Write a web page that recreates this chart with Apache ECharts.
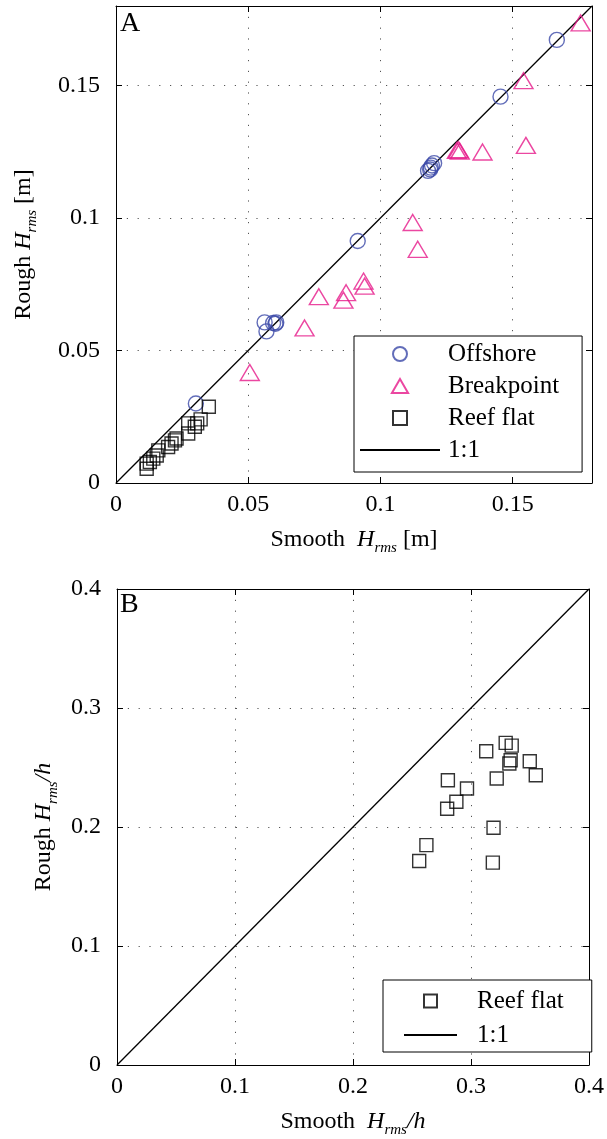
<!DOCTYPE html>
<html>
<head>
<meta charset="UTF-8">
<title>Rough vs Smooth Hrms</title>
<style>
  * { margin: 0; padding: 0; box-sizing: border-box; }
  body { background: #fff; }
  #chart { width: 607px; height: 1139px; }
</style>
<script src="https://cdn.jsdelivr.net/npm/echarts@6/dist/echarts.min.js"></script>
</head>
<body>
<div id="chart"></div>
<script>
// panel A: Hrms [m]
const offshoreX = [0.1667, 0.1454, 0.1180, 0.1190, 0.1195, 0.1203, 0.1188, 0.0914, 0.0594, 0.0569, 0.0562, 0.0606, 0.0603, 0.0302];
const offshoreY = [0.1672, 0.1458, 0.1178, 0.1190, 0.1198, 0.1207, 0.1183, 0.0913, 0.0604, 0.0572, 0.0606, 0.0606, 0.0601, 0.0300];

const breakX = [0.1757, 0.1541, 0.1289, 0.1295, 0.1300, 0.1386, 0.1550, 0.1122, 0.1141, 0.0936, 0.0940, 0.0870, 0.0860, 0.0767, 0.0713, 0.0506];
const breakY = [0.1736, 0.1518, 0.1255, 0.1258, 0.1252, 0.1249, 0.1274, 0.0983, 0.0882, 0.0762, 0.0743, 0.0718, 0.0690, 0.0703, 0.0585, 0.0417];

const reefAX = [0.0351, 0.0320, 0.0307, 0.0298, 0.0273, 0.0273, 0.0229, 0.0223, 0.0210, 0.0197, 0.0160, 0.0154, 0.0141, 0.0128, 0.0116, 0.0116];
const reefAY = [0.0288, 0.0240, 0.0225, 0.0212, 0.0225, 0.0187, 0.0168, 0.0161, 0.0149, 0.0136, 0.0123, 0.0104, 0.0092, 0.0079, 0.0073, 0.0054];

// panel B: Hrms/h
const reefBX = [0.3294, 0.3345, 0.3129, 0.3498, 0.3336, 0.3325, 0.3549, 0.3218, 0.2804, 0.2966, 0.2876, 0.2798, 0.3191, 0.2622, 0.2561, 0.3185];
const reefBY = [0.2707, 0.2684, 0.2636, 0.2552, 0.2561, 0.2533, 0.2435, 0.2407, 0.2393, 0.2324, 0.2212, 0.2153, 0.1994, 0.1848, 0.1714, 0.1701];

const ticksA = [0, 0.05, 0.1, 0.15];
const ticksB = [0, 0.1, 0.2, 0.3, 0.4];

const FONT = '"Liberation Serif", "DejaVu Serif", serif';
const BLUE = '#3b48a8';
const PINK = '#e6198a';

// legend icons that keep their aspect inside the wide legend slot
const ICON_TRI = 'path://M5,0L10,8.66L0,8.66Z';
const ICON_SQ = 'path://M0,0L10,0L10,10L0,10Z';

function pairs(xs, ys) {
    return xs.map((x, i) => [x, ys[i]]);
}

const rich = {
    r: { fontFamily: FONT, fontSize: 24, color: '#000' },
    h: { fontFamily: FONT, fontSize: 24, fontStyle: 'italic', color: '#000' },
    s: { fontFamily: FONT, fontSize: 15, fontStyle: 'italic', color: '#000', padding: [18, 0, 0, 0] }
};

function mainAxis(grid, pos, max, step, ticks, name, gap) {
    return {
        type: 'value', gridIndex: grid, position: pos,
        min: 0, max: max, interval: step,
        name: name, nameLocation: 'middle', nameGap: gap,
        nameRotate: (pos === 'left') ? 90 : 0,
        nameTextStyle: { rich: rich },
        axisLine: { show: true, onZero: false, lineStyle: { color: '#000', width: 1 } },
        axisTick: { show: true, inside: true, length: 6, lineStyle: { color: '#000' } },
        axisLabel: {
            margin: pos === 'left' ? 16 : 10,
            fontFamily: FONT, fontSize: 24, color: '#000',
            showMaxLabel: ticks.indexOf(max) >= 0,
            formatter: v => {
                const r = +(+v).toFixed(3);
                return ticks.indexOf(r) >= 0 ? String(r) : '';
            }
        },
        splitLine: { show: true, lineStyle: { color: '#555', type: [1.2, 9.6], width: 1 } }
    };
}

function boxAxis(grid, pos, max, step) {
    return {
        type: 'value', gridIndex: grid, position: pos,
        min: 0, max: max, interval: step,
        axisLine: { show: true, onZero: false, lineStyle: { color: '#000', width: 1 } },
        axisTick: { show: true, inside: true, length: 6, lineStyle: { color: '#000' } },
        axisLabel: { show: false },
        splitLine: { show: false }
    };
}

const hollow = (c) => ({ color: 'rgba(0,0,0,0)', borderColor: c, borderWidth: 1.4 });

const option = {
    animation: false,
    backgroundColor: '#fff',
    grid: [
        { left: 116, top: 6, width: 476, height: 477 },
        { left: 117, top: 589, width: 476, height: 477 }
    ],
    xAxis: [
        mainAxis(0, 'bottom', 0.18, 0.05, ticksA, '{r|Smooth  }{h|H}{s|rms}{r| [m]}', 40),
        boxAxis(0, 'top', 0.18, 0.05),
        mainAxis(1, 'bottom', 0.4, 0.1, ticksB, '{r|Smooth  }{h|H}{s|rms}{h|/h}', 40),
        boxAxis(1, 'top', 0.4, 0.1)
    ],
    yAxis: [
        mainAxis(0, 'left', 0.18, 0.05, ticksA, '{r|Rough }{h|H}{s|rms}{r| [m]}', 76),
        boxAxis(0, 'right', 0.18, 0.05),
        mainAxis(1, 'left', 0.4, 0.1, ticksB, '{r|Rough }{h|H}{s|rms}{h|/h}', 55),
        boxAxis(1, 'right', 0.4, 0.1)
    ],
    legend: [
        {
            data: [
                { name: 'Offshore', icon: 'circle' },
                { name: 'Breakpoint', icon: ICON_TRI },
                { name: 'Reef flat', icon: ICON_SQ },
                { name: '1:1', itemStyle: { opacity: 0 } }
            ],
            orient: 'vertical', left: 354, top: 336,
            itemWidth: 80, itemHeight: 14, itemGap: 0,
            padding: [2, 23, 6, 5],
            borderColor: '#000', borderWidth: 1, backgroundColor: '#fff',
            textStyle: { fontFamily: FONT, fontSize: 25, lineHeight: 32, color: '#000', padding: [0, 0, 0, 3] },
            selectedMode: false
        },
        {
            data: [
                { name: 'Reef flat', icon: ICON_SQ },
                { name: '1:1', itemStyle: { opacity: 0 } }
            ],
            orient: 'vertical', left: 383, top: 980,
            itemWidth: 53, itemHeight: 13, itemGap: 0,
            padding: [4, 28, 0, 20],
            borderColor: '#000', borderWidth: 1, backgroundColor: '#fff',
            textStyle: { fontFamily: FONT, fontSize: 25, lineHeight: 34, color: '#000', padding: [0, 0, 0, 15] },
            selectedMode: false
        }
    ],
    graphic: [
        { type: 'text', left: 120, top: 10, style: { text: 'A', font: '28px ' + FONT, fill: '#000' } },
        { type: 'text', left: 120, top: 591, style: { text: 'B', font: '28px ' + FONT, fill: '#000' } }
    ],
    series: [
        {
            name: 'Offshore', type: 'scatter', xAxisIndex: 0, yAxisIndex: 0,
            symbol: 'circle', symbolSize: 15,
            itemStyle: hollow(BLUE),
            data: pairs(offshoreX, offshoreY)
        },
        {
            name: 'Breakpoint', type: 'scatter', xAxisIndex: 0, yAxisIndex: 0,
            symbol: 'triangle', symbolSize: [19, 16],
            itemStyle: hollow(PINK),
            data: pairs(breakX, breakY)
        },
        {
            name: 'Reef flat', type: 'scatter', xAxisIndex: 0, yAxisIndex: 0,
            symbol: 'rect', symbolSize: 13,
            itemStyle: hollow('#000'),
            data: pairs(reefAX, reefAY)
        },
        {
            name: '1:1', type: 'line', xAxisIndex: 0, yAxisIndex: 0,
            symbol: 'none', silent: true,
            itemStyle: { color: '#000' },
            lineStyle: { color: '#000', width: 1.3 },
            data: [[0, 0], [0.18, 0.18]],
            z: 1
        },
        {
            name: 'Reef flat', type: 'scatter', xAxisIndex: 2, yAxisIndex: 2,
            symbol: 'rect', symbolSize: 13,
            itemStyle: hollow('#000'),
            data: pairs(reefBX, reefBY)
        },
        {
            name: '1:1', type: 'line', xAxisIndex: 2, yAxisIndex: 2,
            symbol: 'none', silent: true,
            itemStyle: { color: '#000' },
            lineStyle: { color: '#000', width: 1.3 },
            data: [[0, 0], [0.4, 0.4]],
            z: 1
        }
    ]
};

const myChart = echarts.init(document.getElementById('chart'));
myChart.setOption(option);
</script>
</body>
</html>
